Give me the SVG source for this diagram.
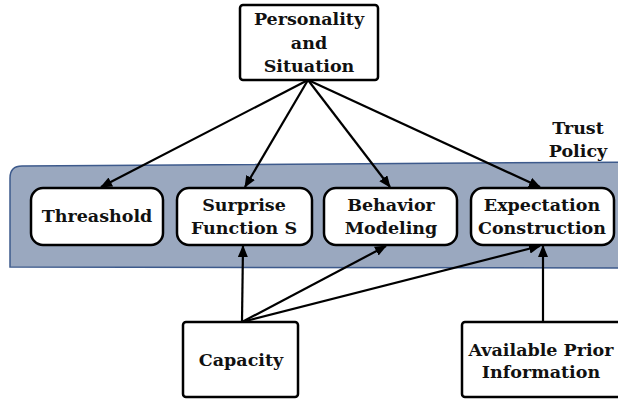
<svg xmlns="http://www.w3.org/2000/svg" width="618" height="401" viewBox="0 0 618 401">
  <style>
    .box { fill: #ffffff; stroke: #000000; stroke-width: 2.5; }
    .band { fill: #9aa8bf; stroke: #3d5a8c; stroke-width: 1.5; }
    .lbl { font-family: "DejaVu Serif", "Liberation Serif", serif; font-weight: bold; font-size: 17.5px; fill: #111111; text-anchor: middle; }
    .edge { stroke: #000000; stroke-width: 2.2; fill: none; marker-end: url(#arrow); }
  </style>
  <defs>
    <marker id="arrow" viewBox="0 0 12 10" refX="11" refY="5" markerWidth="12" markerHeight="10" markerUnits="userSpaceOnUse" orient="auto">
      <path d="M0,0 L12,5 L0,10 Z" fill="#000000"/>
    </marker>
  </defs>
  <rect width="618" height="401" fill="#ffffff"/>

  <!-- Trust policy band -->
  <g id="trust-policy">
    <path class="band" d="M640,162 L22,166 Q10,166 10,178 L10,267 L640,268 Z"/>
    <text class="lbl" x="578" y="134">Trust</text>
    <text class="lbl" x="578" y="157">Policy</text>
  </g>

  <g id="personality">
    <rect class="box" x="240" y="5" width="138" height="75" rx="3"/>
    <text class="lbl" x="309" y="25">Personality</text>
    <text class="lbl" x="309" y="49">and</text>
    <text class="lbl" x="309" y="72">Situation</text>
  </g>

  <g id="threshold">
    <rect class="box" x="31" y="188" width="132" height="57" rx="12"/>
    <text class="lbl" x="97" y="222">Threashold</text>
  </g>

  <g id="surprise">
    <rect class="box" x="177" y="188" width="135" height="57" rx="12"/>
    <text class="lbl" x="244" y="211">Surprise</text>
    <text class="lbl" x="244" y="234">Function S</text>
  </g>

  <g id="behavior">
    <rect class="box" x="324" y="188" width="133" height="57" rx="12"/>
    <text class="lbl" x="391" y="211">Behavior</text>
    <text class="lbl" x="391" y="234">Modeling</text>
  </g>

  <g id="expectation">
    <rect class="box" x="471" y="188" width="143" height="57" rx="12"/>
    <text class="lbl" x="542" y="211">Expectation</text>
    <text class="lbl" x="542" y="234">Construction</text>
  </g>

  <g id="capacity">
    <rect class="box" x="183" y="322" width="115" height="75" rx="3"/>
    <text class="lbl" x="241" y="366">Capacity</text>
  </g>

  <g id="prior-information">
    <rect class="box" x="462" y="322" width="170" height="75" rx="3"/>
    <text class="lbl" x="541" y="356">Available Prior</text>
    <text class="lbl" x="541" y="378">Information</text>
  </g>

  <g id="connectors">
    <line class="edge" x1="308" y1="80" x2="101" y2="187"/>
    <line class="edge" x1="308" y1="80" x2="245" y2="187"/>
    <line class="edge" x1="308" y1="80" x2="390" y2="187"/>
    <line class="edge" x1="308" y1="80" x2="540" y2="187"/>
    <line class="edge" x1="242" y1="322" x2="243" y2="246"/>
    <line class="edge" x1="242" y1="322" x2="386" y2="246"/>
    <line class="edge" x1="242" y1="322" x2="540" y2="246"/>
    <line class="edge" x1="543" y1="322" x2="543" y2="246"/>
  </g>
</svg>
